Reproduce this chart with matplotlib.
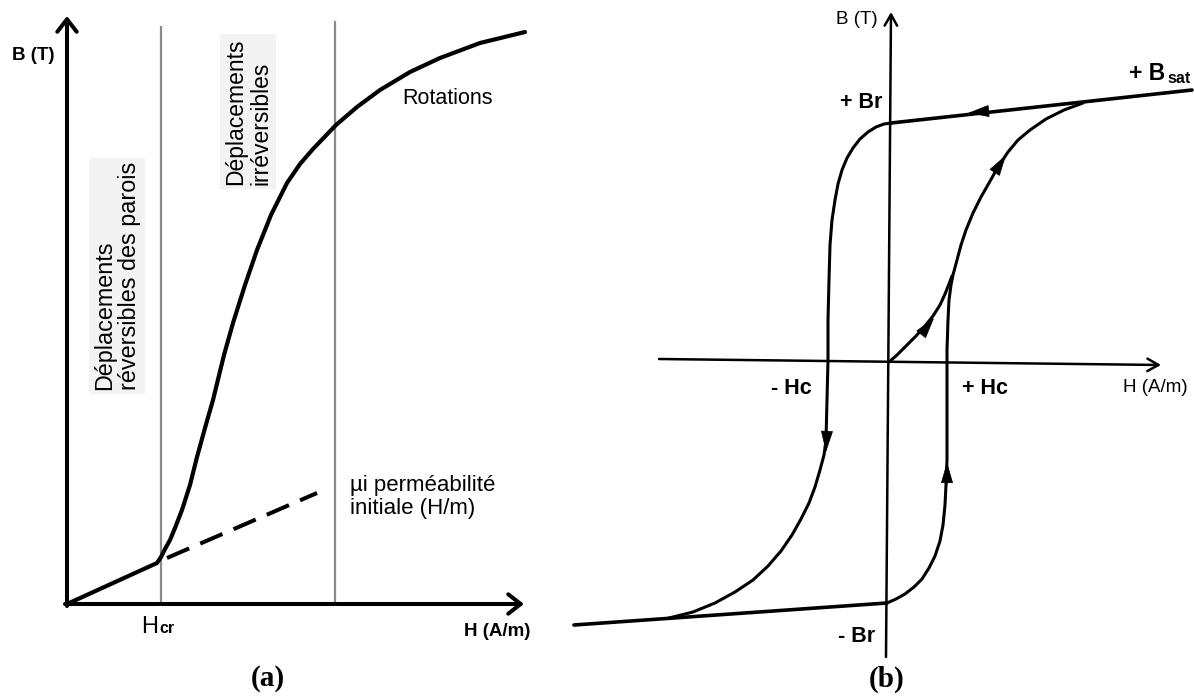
import matplotlib
matplotlib.use('Agg')
import matplotlib.pyplot as plt

# Figure coordinates are image pixels (x to the right, y downward)
W, H = 1194, 696

# ---- panel (a): first magnetisation curve ----
curve_a_x = [67, 157, 161, 165, 170, 175, 182, 190, 197, 205, 213, 224, 233,
             245, 257, 271, 287, 300, 313, 336, 357, 380, 410, 440, 480, 525]
curve_a_y = [604, 563, 557, 549, 540, 528, 510, 485, 457, 428, 400, 355, 323,
             285, 250, 215, 183, 164, 149, 125, 107, 90, 72, 58, 43, 32]
mu_i_x = [167, 317]
mu_i_y = [558, 493]
grey_x = [161, 335]
grey_top = [27, 22]

# ---- panel (b): hysteresis loop ----
top_x = [891, 1192]
top_y = [123, 90]
desc_x = [891, 884, 876, 868, 860, 853, 847, 842, 838, 835, 832, 830, 829,
          828, 828, 827, 826, 824, 820, 815, 809, 801, 792, 781, 768, 753,
          735, 715, 693, 669]
desc_y = [123, 124, 127, 132, 139, 148, 158, 170, 184, 200, 220, 245, 280,
          320, 360, 400, 440, 455, 470, 487, 503, 519, 535, 551, 566, 580,
          592, 603, 612, 618]
bottom_x = [574, 887]
bottom_y = [625, 603]
asc_x = [887, 896, 905, 914, 922, 929, 935, 940, 943, 945, 946, 947, 947,
         947, 947, 948, 949, 951, 953, 957, 961, 966, 973, 981, 989, 998,
         1008, 1018, 1030, 1046, 1064, 1083]
asc_y = [603, 599, 594, 587, 579, 568, 556, 541, 525, 505, 485, 460, 420,
         380, 350, 320, 300, 285, 275, 260, 245, 230, 213, 197, 183, 167,
         152, 140, 130, 119, 110, 103]
virgin_x = [889, 897, 906, 916, 925, 933, 940, 945, 949, 952]
virgin_y = [362, 355, 346, 336, 326, 316, 305, 294, 284, 276]

# arrow heads on the loop: (tip, base)
loop_arrows = [((968, 113), (989, 111)),
               ((934, 318), (923, 332)),
               ((1006, 155), (995, 172)),
               ((826, 452), (827, 430)),
               ((947, 462), (947, 485))]

fig = plt.figure(figsize=(W / 100, H / 100), dpi=100)
ax = fig.add_axes([0, 0, 1, 1])
ax.set_xlim(0, W)
ax.set_ylim(H, 0)
ax.axis('off')

sans = ['Liberation Sans', 'DejaVu Sans']
serif = ['Liberation Serif', 'DejaVu Serif']

# ---------------- panel (a) ----------------
for gx, gt in zip(grey_x, grey_top):
    ax.plot([gx, gx], [604, gt], color='#8a8a8a', lw=1.6, zorder=1)

open_head = dict(arrowstyle='->,head_length=0.9,head_width=0.7', lw=2.9,
                 color='black', shrinkA=0, shrinkB=0)
ax.annotate('', xy=(67, 16), xytext=(67, 606), arrowprops=open_head)
ax.annotate('', xy=(524, 604), xytext=(65, 604), arrowprops=open_head)

ax.plot(curve_a_x, curve_a_y, color='black', lw=3.0, solid_joinstyle='round',
        solid_capstyle='round', zorder=3)
ax.plot(mu_i_x, mu_i_y, color='black', lw=2.9, dashes=(6, 3),
        dash_capstyle='butt', zorder=3)

box = dict(facecolor='#f3f3f3', edgecolor='none', pad=3)
ax.text(117, 390, 'Déplacements\nréversibles des parois', rotation=90,
        ha='center', va='bottom', multialignment='left', fontsize=16.8,
        family=sans, linespacing=1.12, bbox=box)
ax.text(248, 185, 'Déplacements\nirréversibles', rotation=90,
        ha='center', va='bottom', multialignment='left', fontsize=16.5,
        family=sans, linespacing=1.12, bbox=box)
ax.text(447, 98, 'Rotations', ha='center', va='center', fontsize=15.5,
        family=sans)
ax.text(350, 497, 'µi perméabilité\ninitiale (H/m)', ha='left', va='center',
        fontsize=16, family=sans, linespacing=1.15)
ax.text(33, 56, 'B (T)', ha='center', va='center', fontsize=13.5,
        fontweight='bold', family=sans)
ax.text(158, 633, 'H', ha='right', va='baseline', fontsize=17, family=sans)
ax.text(159, 633, 'cr', ha='left', va='baseline', fontsize=11.5,
        fontweight='bold', family=sans)
ax.text(497, 632, 'H (A/m)', ha='center', va='center', fontsize=13.5,
        fontweight='bold', family=sans)
ax.text(268, 679, '(a)', ha='center', va='center', fontsize=21,
        fontweight='bold', family=serif)

# ---------------- panel (b) ----------------
thin_head = dict(arrowstyle='->,head_length=0.8,head_width=0.45', lw=1.8,
                 color='black', shrinkA=0, shrinkB=0)
ax.annotate('', xy=(891, 12), xytext=(886, 657), arrowprops=thin_head)
ax.annotate('', xy=(1161, 365), xytext=(659, 359), arrowprops=thin_head)

loop_kw = dict(color='black', lw=2.2, solid_joinstyle='round',
               solid_capstyle='round', zorder=3)
ax.plot(top_x, top_y, **{**loop_kw, 'lw': 2.6})
ax.plot(desc_x, desc_y, **loop_kw)
ax.plot(bottom_x, bottom_y, **{**loop_kw, 'lw': 2.6})
ax.plot(asc_x, asc_y, **loop_kw)
ax.plot(virgin_x, virgin_y, **loop_kw)

for tip, base in loop_arrows:
    ax.annotate('', xy=tip, xytext=base,
                arrowprops=dict(arrowstyle='-|>,head_length=1.4,head_width=0.4',
                                fc='black', ec='black', lw=0.5,
                                shrinkA=0, shrinkB=0))

ax.text(878, 20, 'B (T)', ha='right', va='center', fontsize=13.5, family=sans)
ax.text(882, 103, '+ Br', ha='right', va='center', fontsize=15.5,
        fontweight='bold', family=sans)
ax.text(1165, 80, '+ B', ha='right', va='baseline', fontsize=16.5,
        fontweight='bold', family=sans)
ax.text(1167, 83, 'sat', ha='left', va='baseline', fontsize=11.5,
        fontweight='bold', family=sans)
ax.text(812, 388, '- Hc', ha='right', va='center', fontsize=15.5,
        fontweight='bold', family=sans)
ax.text(962, 388, '+ Hc', ha='left', va='center', fontsize=15.5,
        fontweight='bold', family=sans)
ax.text(1123, 388, 'H (A/m)', ha='left', va='center', fontsize=13.5,
        family=sans)
ax.text(875, 636, '- Br', ha='right', va='center', fontsize=15.5,
        fontweight='bold', family=sans)
ax.text(887, 679, '(b)', ha='center', va='center', fontsize=21,
        fontweight='bold', family=serif)

fig.savefig('out.png', dpi=100)
